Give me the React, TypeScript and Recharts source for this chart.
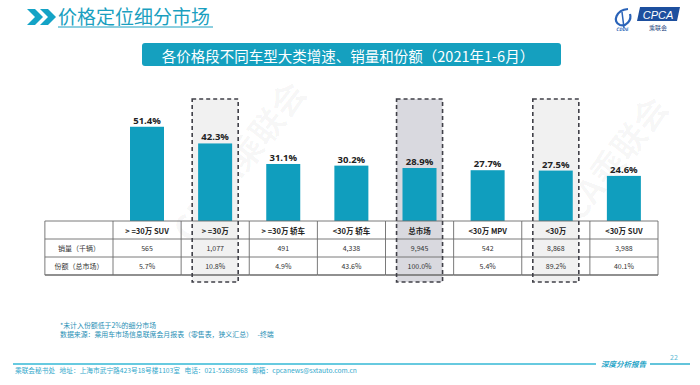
import React from 'react';
import { ComposedChart, Bar, XAxis, YAxis, LabelList } from 'recharts';

const categories = ['> =30万 SUV', '> =30万', '> =30万 轿车', '<30万 轿车', '总市场', '<30万 MPV', '<30万', '<30万 SUV'];
const growth = [51.4, 42.3, 31.1, 30.2, 28.9, 27.7, 27.5, 24.6];
const sales = ['565', '1,077', '491', '4,338', '9,945', '542', '8,868', '3,988'];
const shares = ['5.7%', '10.8%', '4.9%', '43.6%', '100.0%', '5.4%', '89.2%', '40.1%'];
const highlight = ['', 'light', '', '', 'dark', '', 'light', ''];
const rowLabels = ['销量（千辆）', '份额（总市场）'];

const title = '价格定位细分市场';
const subtitle = '各价格段不同车型大类增速、销量和份额（2021年1-6月）';
const note1 = '*未计入份额低于2%的细分市场';
const note2 = '数据来源：乘用车市场信息联席会月报表（零售表，狭义汇总）   -终端';
const footer = '乘联会秘书处   地址：上海市武宁路423号18号楼1103室   电话：021-52680968   邮箱：cpcanews@sxtauto.com.cn';

const data = categories.map((c, i) => ({ name: c, growth: growth[i] }));

const W = 700;
const H = 385;
const M = { top: 111, right: 42, bottom: 104, left: 113 };
const AXIS_H = 60;
const BAND = (W - M.left - M.right) / categories.length;
const PLOT_H = H - M.top - M.bottom - AXIS_H;
const ROW = 18;
const BOX_W = 46;
const BOX_ABOVE = 12;
const BOX_BELOW = 61;
const FONT = '"Noto Sans CJK SC", "Noto Sans", sans-serif';
const TEAL = '#109ebe';

const BarShape = (props: any) => {
  const { x, y, width, height, index, background, fill } = props;
  const hl = highlight[index];
  const cx = x + width / 2;
  const topY = background && background.height ? background.y : M.top;
  const ph = background && background.height ? background.height : PLOT_H;
  return (
    <g>
      {hl && (
        <rect x={cx - BOX_W / 2} y={topY - BOX_ABOVE} width={BOX_W} height={ph + BOX_ABOVE + BOX_BELOW} fill={hl === 'dark' ? '#d9d9df' : '#f1f1f1'} />
      )}
      <rect x={x} y={y} width={width} height={height} fill={fill} />
    </g>
  );
};

const TableTick = (props: any) => {
  const { x, y, payload, index } = props;
  const i = payload?.index ?? index;
  const left = x - BAND / 2;
  const right = x + BAND / 2;
  const hl = highlight[i];
  const lineColor = '#6b6b6b';
  return (
    <g>
      {[0, 1, 2, 3].map((r) => (
        <line key={r} x1={i === 0 ? left - BAND : left} x2={right} y1={y + r * ROW} y2={y + r * ROW} stroke={lineColor} strokeWidth={r === 3 ? 1.3 : 0.9} />
      ))}
      <line x1={left} x2={left} y1={y} y2={y + 3 * ROW} stroke={lineColor} strokeWidth={0.9} />
      {i === 0 && <line x1={left - BAND} x2={left - BAND} y1={y} y2={y + 3 * ROW} stroke={lineColor} strokeWidth={0.9} />}
      {i === categories.length - 1 && <line x1={right} x2={right} y1={y} y2={y + 3 * ROW} stroke={lineColor} strokeWidth={0.9} />}
      {i === 0 && rowLabels.map((l, r) => (
        <text key={l} x={left - BAND / 2} y={y + (r + 1.5) * ROW} textAnchor="middle" dominantBaseline="central" fontSize={7} fill="#333" fontFamily={FONT}>{l}</text>
      ))}
      <text x={x} y={y + 0.5 * ROW} textAnchor="middle" dominantBaseline="central" fontSize={7.5} fontWeight="bold" fill="#222" fontFamily={FONT}>{categories[i]}</text>
      <text x={x} y={y + 1.5 * ROW} textAnchor="middle" dominantBaseline="central" fontSize={7} fill="#333" fontFamily={FONT}>{sales[i]}</text>
      <text x={x} y={y + 2.5 * ROW} textAnchor="middle" dominantBaseline="central" fontSize={7} fill="#333" fontFamily={FONT}>{shares[i]}</text>
      {hl && (
        <rect x={x - BOX_W / 2} y={y - PLOT_H - BOX_ABOVE} width={BOX_W} height={PLOT_H + BOX_ABOVE + BOX_BELOW} fill="none" stroke="#404048" strokeWidth={1.6} strokeDasharray="4 3" />
      )}
    </g>
  );
};

const Background = () => (
  <svg width={W} height={H} style={{ position: 'absolute', left: 0, top: 0 }}>
    <rect x={0} y={0} width={W} height={H} fill="#ffffff" />
    <text x={0} y={0} transform="translate(238,160) rotate(-52)" textAnchor="middle" dominantBaseline="central" fontSize={34} fontWeight="bold" fill="#000" fillOpacity={0.035} fontFamily={FONT}>CPCA乘联会</text>
    <text x={0} y={0} transform="translate(600,175) rotate(-52)" textAnchor="middle" dominantBaseline="central" fontSize={34} fontWeight="bold" fill="#000" fillOpacity={0.035} fontFamily={FONT}>CPCA乘联会</text>
    <polygon points="27,9 35,9 43,17 35,25 27,25 35,17" fill="#14a3c6" />
    <polygon points="40,9 48,9 56,17 48,25 40,25 48,17" fill="#14a3c6" />
    <text x={58} y={24} fontSize={19} fill="#1a9fc0" fontFamily={FONT}>{title}</text>
    <line x1={58} x2={213} y1={27} y2={27} stroke="#1a9fc0" strokeWidth={1} />
    <rect x={142} y={43} width={419} height={23} rx={3} fill="#15a0bf" />
    <text x={348} y={55} textAnchor="middle" dominantBaseline="central" fontSize={14.5} fill="#ffffff" fontFamily={FONT}>{subtitle}</text>
    <path d="M 628 9 C 616 10, 612 22, 620 25 C 626 27, 632 20, 630 14" fill="none" stroke="#2a63b8" strokeWidth={2.2} />
    <path d="M 622 12 L 624 28" fill="none" stroke="#2a63b8" strokeWidth={1.5} />
    <text x={616} y={31} fontSize={4.5} fontStyle="italic" fontWeight="bold" fill="#2a63b8" fontFamily={FONT}>CDDE</text>
    <polygon points="640,7 680,7 677,21 637,21" fill="#1d4f9e" />
    <text x={658} y={14.5} textAnchor="middle" dominantBaseline="central" fontSize={11} fontStyle="italic" fill="#ffffff" fontFamily="Arial, 'Liberation Sans', sans-serif">CPCA</text>
    <text x={658} y={27} textAnchor="middle" dominantBaseline="central" fontSize={6} fill="#1d3f7e" fontFamily={FONT}>乘联会</text>
    <text x={60} y={328} fontSize={6.9} fill="#1f8fb5" fontFamily={FONT}>{note1}</text>
    <text x={60} y={337} fontSize={6.9} fill="#1f8fb5" fontFamily={FONT} style={{ whiteSpace: 'pre' }}>{note2}</text>
    <line x1={13} x2={596} y1={364} y2={364} stroke="#35b8d6" strokeWidth={1.5} />
    <text x={601} y={367} fontSize={7.5} fontStyle="italic" fontWeight="bold" fill="#2aa6c8" fontFamily={FONT}>深度分析报告</text>
    <line x1={650} x2={690} y1={364} y2={364} stroke="#2fb0cf" strokeWidth={1.5} />
    <text x={674} y={360} textAnchor="middle" fontSize={7} fill="#5ab8d4" fontFamily={FONT}>22</text>
    <text x={15} y={373} fontSize={6.7} fill="#34a9cc" fontFamily={FONT} style={{ whiteSpace: 'pre' }}>{footer}</text>
  </svg>
);

export default function App() {
  return (
    <div style={{ position: 'absolute', left: 0, top: 0, width: W, height: H, overflow: 'hidden', background: '#fff' }}>
      <Background />
      <div style={{ position: 'absolute', left: 0, top: 0 }}>
        <ComposedChart width={W} height={H} data={data} margin={M} barSize={34}>
          <XAxis
            dataKey="name"
            height={AXIS_H}
            interval={0}
            tickSize={0}
            tickMargin={0}
            axisLine={false}
            tickLine={false}
            tick={<TableTick />}
          />
          <YAxis hide domain={[0, 60]} />
          <Bar dataKey="growth" fill={TEAL} isAnimationActive={false} shape={<BarShape />}>
            <LabelList
              dataKey="growth"
              position="top"
              offset={3}
              formatter={(v: any) => `${Number(v).toFixed(1)}%`}
              style={{ fontSize: 9.5, fontWeight: 'bold', fill: '#222', fontFamily: '"Open Sans", "Noto Sans", sans-serif' }}
            />
          </Bar>
        </ComposedChart>
      </div>
    </div>
  );
}
